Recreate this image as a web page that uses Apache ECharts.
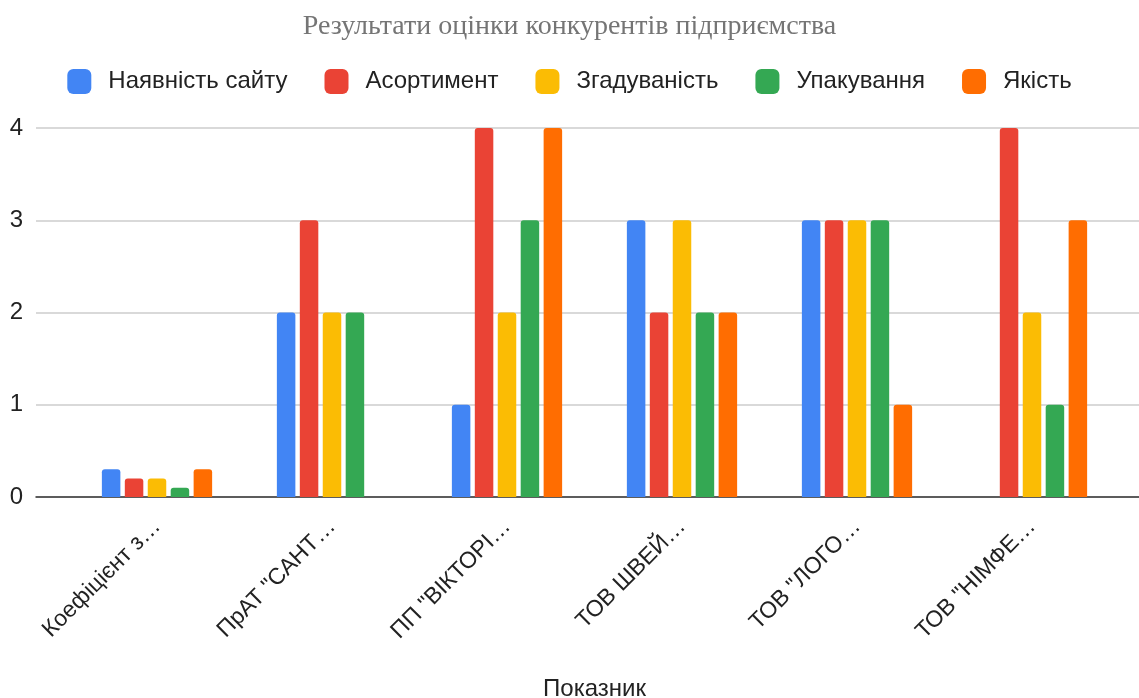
<!DOCTYPE html>
<html>
<head>
<meta charset="utf-8">
<script src="https://cdn.jsdelivr.net/npm/echarts@6/dist/echarts.min.js"></script>
<style>
  html, body { margin: 0; padding: 0; background: #fff; }
  #chart { width: 1139px; height: 698px; }
</style>
</head>
<body>
<div id="chart"></div>
<script>
// дані з діаграми
const categories = ['Коефіцієнт з…', 'ПрАТ "САНТ…', 'ПП "ВІКТОРІ…', 'ТОВ ШВЕЙ…', 'ТОВ "ЛОГО…', 'ТОВ "НІМФЕ…'];
const seriesNames = ['Наявність сайту', 'Асортимент', 'Згадуваність', 'Упакування', 'Якість'];
const siteValues = [0.3, 2, 1, 3, 3, null];
const assortValues = [0.2, 3, 4, 2, 3, 4];
const mentionValues = [0.2, 2, 2, 3, 3, 2];
const packValues = [0.1, 2, 3, 2, 3, 1];
const qualityValues = [0.3, null, 4, 2, 1, 3];
const yTicks = [0, 1, 2, 3, 4];

const colors = ['#4285F4', '#EA4335', '#FBBC04', '#34A853', '#FF6D01'];
const allValues = [siteValues, assortValues, mentionValues, packValues, qualityValues];

let chart = echarts.init(document.getElementById('chart'));

const labelFont = 'Arial, "Liberation Sans", sans-serif';

let option = {
  animation: false,
  title: {
    text: 'Результати оцінки конкурентів підприємства',
    left: 'center',
    top: 8,
    textStyle: {
      fontFamily: '"Liberation Serif", "DejaVu Serif", serif',
      fontWeight: 'normal',
      fontSize: 28,
      color: '#757575'
    }
  },
  legend: {
    top: 64,
    left: 'center',
    itemWidth: 24,
    itemHeight: 25,
    itemGap: 37,
    icon: 'roundRect',
    data: seriesNames,
    textStyle: {
      fontFamily: labelFont,
      fontSize: 24,
      color: '#222',
      padding: [0, 0, 0, 12]
    }
  },
  grid: [
    // фон: сітка і підписи осі Y
    { left: 36, right: 0, top: 128, bottom: 201, outerBoundsMode: 'none' },
    // стовпці
    { left: 69.5, right: 19.5, top: 128, bottom: 201, outerBoundsMode: 'none' }
  ],
  xAxis: [
    {
      gridIndex: 0,
      type: 'value',
      min: 0,
      max: 1,
      axisLine: { show: true, onZero: false, lineStyle: { color: '#333', width: 1.5 } },
      axisTick: { show: false },
      axisLabel: { show: false },
      splitLine: { show: false }
    },
    {
      gridIndex: 1,
      type: 'category',
      data: categories,
      axisLine: { show: false },
      axisTick: { show: false },
      axisLabel: {
        rotate: 45,
        margin: 26,
        fontFamily: labelFont,
        fontSize: 23,
        color: '#222'
      },
      name: 'Показник',
      nameLocation: 'middle',
      nameGap: 180,
      nameTextStyle: {
        fontFamily: labelFont,
        fontSize: 24,
        color: '#222'
      }
    }
  ],
  yAxis: [
    {
      gridIndex: 0,
      type: 'value',
      min: yTicks[0],
      max: yTicks[yTicks.length - 1],
      interval: 1,
      axisLine: { show: false },
      axisTick: { show: false },
      axisLabel: {
        margin: 13,
        fontFamily: labelFont,
        fontSize: 24,
        color: '#222'
      },
      splitLine: { lineStyle: { color: '#ccc', width: 1.5 } }
    },
    {
      gridIndex: 1,
      type: 'value',
      min: yTicks[0],
      max: yTicks[yTicks.length - 1],
      show: false
    }
  ],
  series: seriesNames.map(function (name, i) {
    return {
      name: name,
      type: 'bar',
      xAxisIndex: 1,
      yAxisIndex: 1,
      data: allValues[i],
      barWidth: 18.5,
      barGap: '24%',
      itemStyle: {
        color: colors[i],
        borderRadius: [3, 3, 0, 0]
      }
    };
  })
};

chart.setOption(option);
</script>
</body>
</html>
